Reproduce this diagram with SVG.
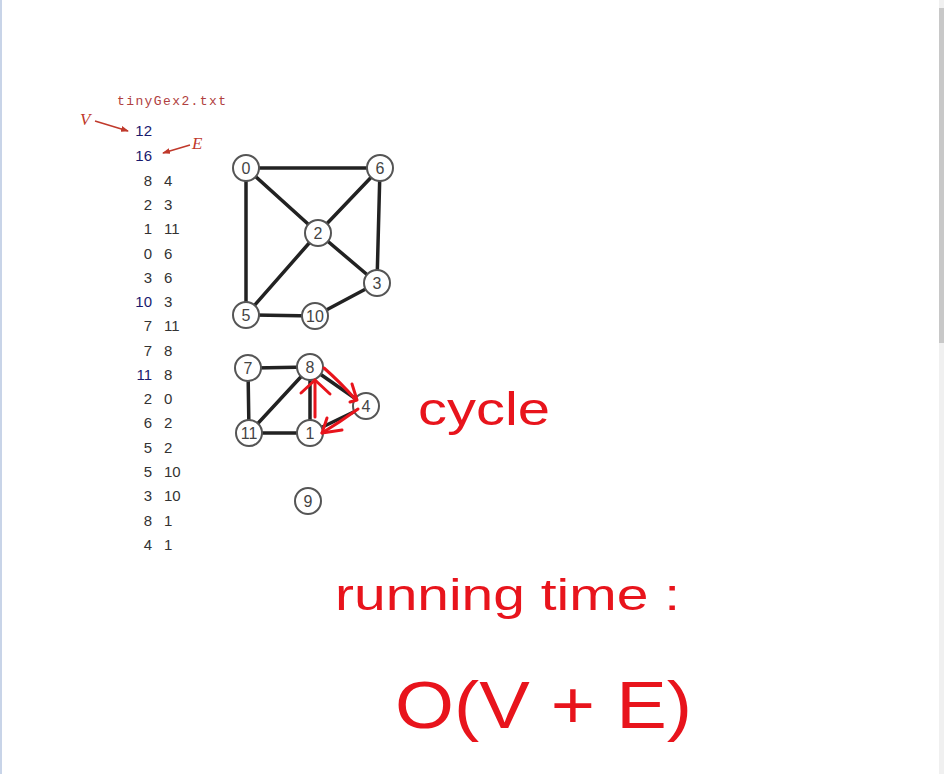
<svg xmlns="http://www.w3.org/2000/svg" width="944" height="774" viewBox="0 0 944 774">
<style>
.edge{stroke:#222;stroke-width:3.5;stroke-linecap:round}
.node circle{fill:#fff;stroke:#555;stroke-width:2}
.node text{font-family:"Liberation Sans",Arial,sans-serif;font-size:16px;fill:#444;text-anchor:middle}
.num{font-family:"Liberation Sans",Arial,sans-serif;font-size:15px;fill:#333}
.nv{fill:#1a1a6e}
.hand{font-family:"Liberation Sans",Arial,sans-serif;fill:#e8141c}
.red{stroke:#e8141c;stroke-width:3;fill:none;stroke-linecap:round;stroke-linejoin:round}
.ann{font-family:"Liberation Serif",serif;font-style:italic;font-size:17px;fill:#c0392b}
.annl{stroke:#c0392b;stroke-width:1.5}
</style>
<defs>
<marker id="ah" markerWidth="8" markerHeight="6" refX="7" refY="3" orient="auto" markerUnits="userSpaceOnUse"><path d="M0,0 L8,3 L0,6 Z" fill="#c0392b"/></marker>
</defs>
<rect width="944" height="774" fill="#fff"/>
<rect x="0" y="0" width="2" height="774" fill="#c8d4e8"/>
<rect x="939" y="0" width="5" height="774" fill="#f0f0f0"/>
<rect x="939" y="8" width="5" height="335" fill="#c8c8c8"/>

<g id="file-list">
<text x="117" y="105" font-family="Liberation Mono,monospace" font-size="13" fill="#b04040" textLength="109">tinyGex2.txt</text>
<text class="ann" x="80" y="125">V</text>
<line class="annl" x1="95" y1="121" x2="128" y2="131" marker-end="url(#ah)"/>
<text class="ann" x="192" y="149">E</text>
<line class="annl" x1="190" y1="145" x2="163" y2="153" marker-end="url(#ah)"/>
<g class="num" text-anchor="end">
<text x="152" y="136" class="nv">12</text>
<text x="152" y="161" class="nv">16</text>
<text x="152" y="186">8</text>
<text x="152" y="210">2</text>
<text x="152" y="234">1</text>
<text x="152" y="259">0</text>
<text x="152" y="283">3</text>
<text x="152" y="307" class="nv">10</text>
<text x="152" y="331">7</text>
<text x="152" y="356">7</text>
<text x="152" y="380" class="nv">11</text>
<text x="152" y="404">2</text>
<text x="152" y="428">6</text>
<text x="152" y="453">5</text>
<text x="152" y="477">5</text>
<text x="152" y="501">3</text>
<text x="152" y="526">8</text>
<text x="152" y="550">4</text>
</g>
<g class="num">
<text x="164" y="186">4</text>
<text x="164" y="210">3</text>
<text x="164" y="234">11</text>
<text x="164" y="259">6</text>
<text x="164" y="283">6</text>
<text x="164" y="307">3</text>
<text x="164" y="331">11</text>
<text x="164" y="356">8</text>
<text x="164" y="380">8</text>
<text x="164" y="404">0</text>
<text x="164" y="428">2</text>
<text x="164" y="453">2</text>
<text x="164" y="477">10</text>
<text x="164" y="501">10</text>
<text x="164" y="526">1</text>
<text x="164" y="550">1</text>
</g>
</g>

<g id="connectors">
<line class="edge" x1="246" y1="168" x2="380" y2="168"/>
<line class="edge" x1="246" y1="168" x2="318" y2="233"/>
<line class="edge" x1="246" y1="168" x2="246" y2="315"/>
<line class="edge" x1="380" y1="168" x2="318" y2="233"/>
<line class="edge" x1="380" y1="168" x2="377" y2="283"/>
<line class="edge" x1="318" y1="233" x2="377" y2="283"/>
<line class="edge" x1="318" y1="233" x2="246" y2="315"/>
<line class="edge" x1="246" y1="315" x2="315" y2="316"/>
<line class="edge" x1="315" y1="316" x2="377" y2="283"/>
<line class="edge" x1="248" y1="368" x2="310" y2="367"/>
<line class="edge" x1="248" y1="368" x2="249" y2="433"/>
<line class="edge" x1="249" y1="433" x2="310" y2="367"/>
<line class="edge" x1="249" y1="433" x2="310" y2="433"/>
<line class="edge" x1="310" y1="367" x2="310" y2="433"/>
<line class="edge" x1="310" y1="367" x2="366" y2="406"/>
<line class="edge" x1="366" y1="406" x2="310" y2="433"/>
</g>

<g id="node-0" class="node"><circle cx="246" cy="168" r="13"/><text x="246" y="174">0</text></g>
<g id="node-6" class="node"><circle cx="380" cy="168" r="13"/><text x="380" y="174">6</text></g>
<g id="node-2" class="node"><circle cx="318" cy="233" r="13"/><text x="318" y="239">2</text></g>
<g id="node-3" class="node"><circle cx="377" cy="283" r="13"/><text x="377" y="289">3</text></g>
<g id="node-5" class="node"><circle cx="246" cy="315" r="13"/><text x="246" y="321">5</text></g>
<g id="node-10" class="node"><circle cx="315" cy="316" r="13"/><text x="315" y="322">10</text></g>
<g id="node-7" class="node"><circle cx="248" cy="368" r="13"/><text x="248" y="374">7</text></g>
<g id="node-8" class="node"><circle cx="310" cy="367" r="13"/><text x="310" y="373">8</text></g>
<g id="node-4" class="node"><circle cx="366" cy="406" r="13"/><text x="366" y="412">4</text></g>
<g id="node-11" class="node"><circle cx="249" cy="433" r="13"/><text x="249" y="439">11</text></g>
<g id="node-1" class="node"><circle cx="310" cy="433" r="13"/><text x="310" y="439">1</text></g>
<g id="node-9" class="node"><circle cx="308" cy="501" r="13"/><text x="308" y="507">9</text></g>

<g id="cycle-marks">
<path class="red" d="M324,368 Q340,382 356,400"/>
<path class="red" d="M352,384 L357,400 L350,402"/>
<path class="red" d="M358,409 Q340,422 322,433"/>
<path class="red" d="M327,418 L322,433 L342,430"/>
<path class="red" d="M315,417 L315,380"/>
<path class="red" d="M301,393 L315,380 L330,394"/>
</g>

<g id="notes">
<text class="hand" x="418" y="425" font-size="46" textLength="132" lengthAdjust="spacingAndGlyphs">cycle</text>
<text class="hand" x="335" y="610" font-size="44" textLength="345" lengthAdjust="spacingAndGlyphs">running time :</text>
<text class="hand" x="395" y="728" font-size="66" textLength="297" lengthAdjust="spacingAndGlyphs">O(V + E)</text>
</g>
</svg>
